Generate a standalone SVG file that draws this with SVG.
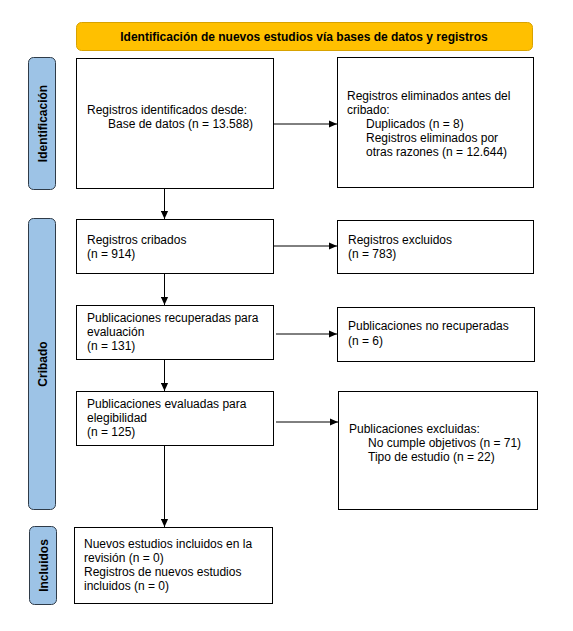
<svg xmlns="http://www.w3.org/2000/svg" width="573" height="631" viewBox="0 0 573 631">
<style>
.box{fill:#ffffff;stroke:#000000;stroke-width:1}
.side{fill:#9DC3E6;stroke:#2F3B48;stroke-width:1}
.hdr{fill:#FFC000;stroke:#D8A200;stroke-width:1}
text{font-family:"Liberation Sans",Arial,sans-serif;font-size:12px;fill:#000000}
.b{font-weight:bold}
.conn{stroke:#000000;stroke-width:1;fill:none;marker-end:url(#ah)}
</style>
<defs>
<marker id="ah" viewBox="0 0 10 10" refX="10" refY="5" markerWidth="8" markerHeight="8" markerUnits="userSpaceOnUse" orient="auto">
<path d="M0,0.5 L10,5 L0,9.5 Z" fill="#000000"/>
</marker>
</defs>
<rect width="573" height="631" fill="#ffffff"/>

<g id="header">
<rect class="hdr" x="76.5" y="22.5" width="456" height="28" rx="5"/>
<text class="b" x="304" y="40.5" text-anchor="middle">Identificación de nuevos estudios vía bases de datos y registros</text>
</g>

<g id="phase-identificacion">
<rect class="side" x="28.5" y="57.5" width="27" height="132" rx="5"/>
<text class="b" transform="translate(46.5,123.5) rotate(-90)" text-anchor="middle">Identificación</text>
</g>
<g id="phase-cribado">
<rect class="side" x="28.5" y="218.5" width="27" height="291" rx="5"/>
<text class="b" transform="translate(46.5,364) rotate(-90)" text-anchor="middle">Cribado</text>
</g>
<g id="phase-incluidos">
<rect class="side" x="29.5" y="526.5" width="27" height="78" rx="5"/>
<text class="b" transform="translate(47.5,565.5) rotate(-90)" text-anchor="middle">Incluidos</text>
</g>

<g id="n-identificados">
<rect class="box" x="76.5" y="58.5" width="197" height="130"/>
<text x="87" y="114">Registros identificados desde:</text>
<text x="108" y="128">Base de datos (n = 13.588)</text>
</g>
<g id="n-eliminados">
<rect class="box" x="337.5" y="57.5" width="196" height="130"/>
<text x="347" y="100">Registros eliminados antes del</text>
<text x="347" y="114">cribado:</text>
<text x="366" y="128">Duplicados  (n = 8)</text>
<text x="366" y="142">Registros eliminados por</text>
<text x="366" y="156">otras razones (n = 12.644)</text>
</g>
<g id="n-cribados">
<rect class="box" x="76.5" y="219.5" width="197" height="54"/>
<text x="87" y="244">Registros cribados</text>
<text x="87" y="258">(n = 914)</text>
</g>
<g id="n-excluidos">
<rect class="box" x="337.5" y="220.5" width="196" height="53"/>
<text x="348" y="244">Registros excluidos</text>
<text x="348" y="258">(n = 783)</text>
</g>
<g id="n-recuperadas">
<rect class="box" x="76.5" y="305.5" width="197" height="54"/>
<text x="87" y="322">Publicaciones recuperadas para</text>
<text x="87" y="336">evaluación</text>
<text x="87" y="350">(n = 131)</text>
</g>
<g id="n-no-recuperadas">
<rect class="box" x="337.5" y="307.5" width="197" height="54"/>
<text x="348" y="330">Publicaciones no recuperadas</text>
<text x="348" y="345">(n = 6)</text>
</g>
<g id="n-evaluadas">
<rect class="box" x="76.5" y="391.5" width="197" height="54"/>
<text x="87" y="408">Publicaciones evaluadas para</text>
<text x="87" y="422">elegibilidad</text>
<text x="87" y="436">(n = 125)</text>
</g>
<g id="n-pub-excluidas">
<rect class="box" x="338.5" y="391.5" width="199" height="118"/>
<text x="349" y="433">Publicaciones excluidas:</text>
<text x="368" y="447">No cumple objetivos (n = 71)</text>
<text x="368" y="461">Tipo de estudio (n = 22)</text>
</g>
<g id="n-incluidos">
<rect class="box" x="74.5" y="527.5" width="198" height="76"/>
<text x="84" y="548">Nuevos estudios incluidos en la</text>
<text x="84" y="562">revisión (n = 0)</text>
<text x="84" y="576">Registros de nuevos estudios</text>
<text x="84" y="590">incluidos (n = 0)</text>
</g>

<g id="connectors">
<line class="conn" x1="274" y1="124" x2="337" y2="124"/>
<line class="conn" x1="164.5" y1="189" x2="164.5" y2="219"/>
<line class="conn" x1="274" y1="246" x2="337" y2="246"/>
<line class="conn" x1="164.5" y1="274" x2="164.5" y2="305"/>
<line class="conn" x1="276" y1="334" x2="337" y2="334"/>
<line class="conn" x1="164.5" y1="360" x2="164.5" y2="391"/>
<line class="conn" x1="276" y1="422" x2="338" y2="422"/>
<line class="conn" x1="164.5" y1="446" x2="164.5" y2="527"/>
</g>
</svg>
